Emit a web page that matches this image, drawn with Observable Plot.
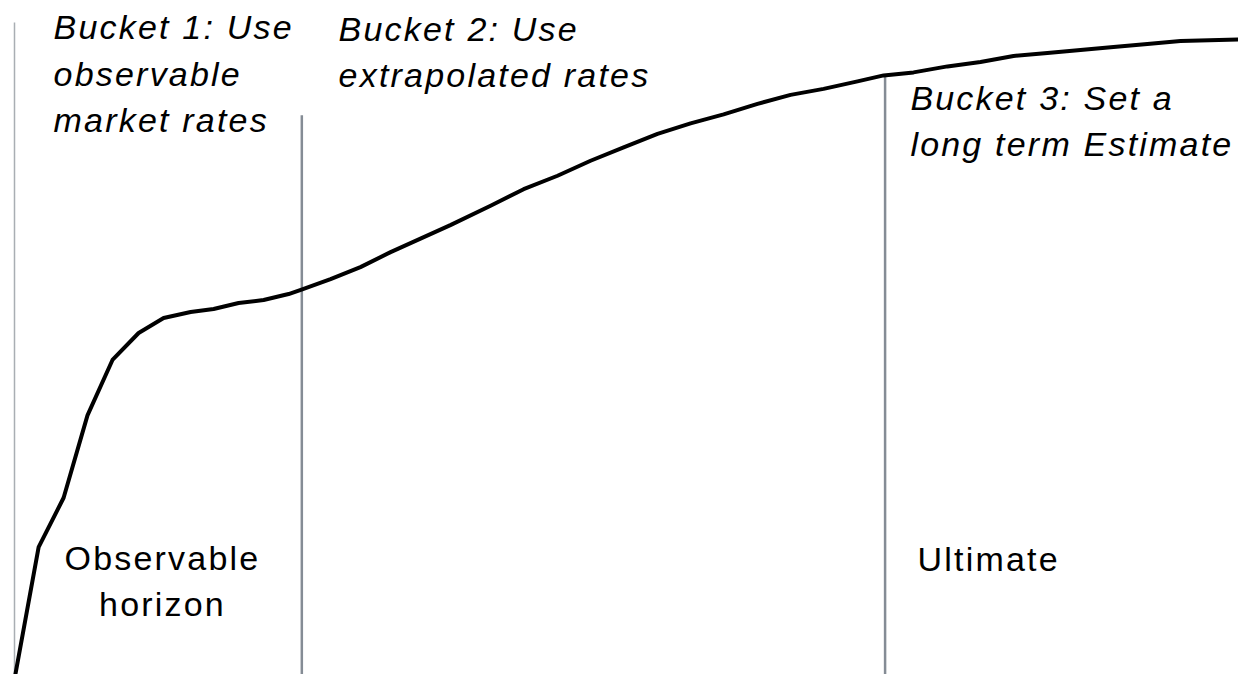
<!DOCTYPE html>
<html>
<head>
<meta charset="utf-8">
<script src="https://cdn.jsdelivr.net/npm/d3@7"></script>
<script src="https://cdn.jsdelivr.net/npm/@observablehq/plot@0.6"></script>
<style>
  html, body { margin: 0; padding: 0; background: #fff; }
  #chart svg text { letter-spacing: 2.2px; }
</style>
</head>
<body>
<div id="chart"></div>
<script>
// Yield curve: maturity (years) vs rate (%)
const maturity = [0.03, 0.84, 1.71, 2.54, 3.41, 4.32, 5.19, 6.13, 6.93, 7.80, 8.67, 9.54, 9.99,
  11.00, 12.04, 13.09, 14.13, 15.17, 16.57, 17.72, 18.90, 20.05, 21.20, 22.38, 23.53,
  24.68, 25.86, 27.01, 28.16, 29.34, 30.25, 31.29, 32.47, 33.62, 34.77, 35.95, 37.10,
  38.25, 39.43, 40.58, 42.60];
const rate = [0.00, 0.85, 1.18, 1.73, 2.10, 2.28, 2.38, 2.42, 2.44, 2.48, 2.50, 2.54, 2.57,
  2.64, 2.72, 2.82, 2.91, 3.00, 3.13, 3.24, 3.33, 3.43, 3.52, 3.61, 3.68,
  3.74, 3.81, 3.87, 3.91, 3.96, 4.00, 4.02, 4.06, 4.09, 4.13, 4.15, 4.17,
  4.19, 4.21, 4.23, 4.24];

// Bucket boundaries (years) and the height each boundary line reaches (%)
const boundaryYears = [0, 10, 30.3];
const boundaryTops = [4.35, 3.73, 4.00];
const boundaryKinds = ["start", "horizon", "ultimate"];

// Labels
const labelTexts = [
  "Bucket 1: Use\nobservable\nmarket rates",
  "Bucket 2: Use\nextrapolated rates",
  "Bucket 3: Set a\nlong term Estimate",
  "Observable\nhorizon",
  "Ultimate"
];
const labelYears = [1.36, 11.28, 31.18, 5.15, 31.43];
const labelRates = [3.62, 3.92, 3.46, 0.39, 0.69];
const labelItalic = [true, true, true, false, false];
const labelAnchor = ["start", "start", "start", "middle", "start"];

const curve = maturity.map((m, i) => ({maturity: m, rate: rate[i]}));
const bounds = boundaryYears.map((x, i) => ({x, top: boundaryTops[i], kind: boundaryKinds[i]}));
const labels = labelTexts.map((t, i) => ({text: t, x: labelYears[i], y: labelRates[i], italic: labelItalic[i], anchor: labelAnchor[i]}));

const textCommon = {
  fontFamily: "Liberation Sans, Arial, sans-serif",
  fontSize: 34,
  lineHeight: 1.37,
  lineAnchor: "bottom",
  fill: "#000"
};

const chart = Plot.plot({
  width: 1238,
  height: 674,
  marginLeft: 14,
  marginRight: 0,
  marginTop: 0,
  marginBottom: 0,
  x: {domain: [0, 42.6], axis: null},
  y: {domain: [0, 4.5], axis: null},
  marks: [
    Plot.ruleX(bounds.filter(d => d.kind === "start"), {x: "x", y1: 0, y2: "top", stroke: "#a9aeb3", strokeWidth: 1.5}),
    Plot.ruleX(bounds.filter(d => d.kind !== "start"), {x: "x", y1: 0, y2: "top", stroke: "#858c95", strokeWidth: 2.5}),
    Plot.line(curve, {x: "maturity", y: "rate", stroke: "#000", strokeWidth: 4, curve: "linear", strokeLinejoin: "round"}),
    Plot.text(labels.filter(d => d.italic), {...textCommon, x: "x", y: "y", text: "text", textAnchor: "start", fontStyle: "italic"}),
    Plot.text(labels.filter(d => !d.italic && d.anchor === "middle"), {...textCommon, x: "x", y: "y", text: "text", textAnchor: "middle"}),
    Plot.text(labels.filter(d => !d.italic && d.anchor === "start"), {...textCommon, x: "x", y: "y", text: "text", textAnchor: "start"})
  ]
});
document.getElementById("chart").appendChild(chart);
</script>
</body>
</html>
